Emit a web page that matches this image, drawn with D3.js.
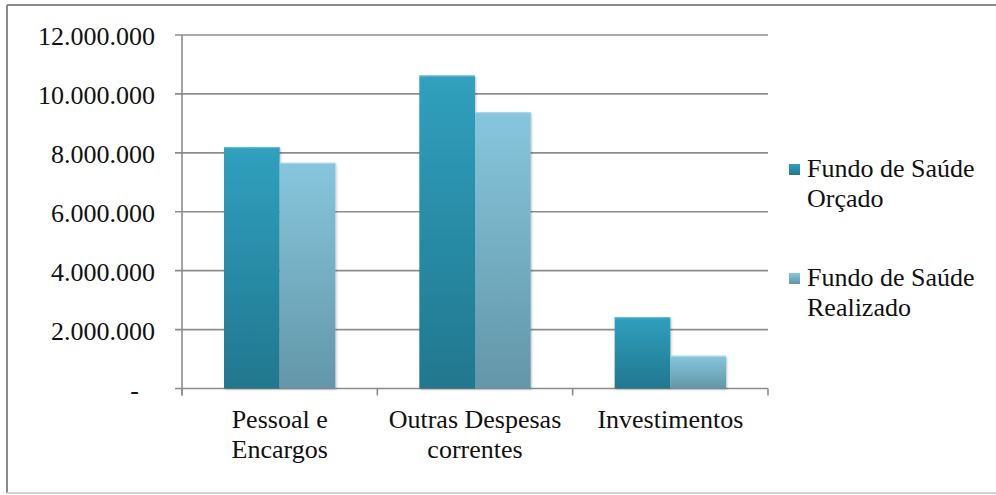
<!DOCTYPE html>
<html>
<head>
<meta charset="utf-8">
<script src="https://cdn.jsdelivr.net/npm/d3@7"></script>
<style>
html,body{margin:0;padding:0;background:#fff;}
svg{display:block;}
</style>
</head>
<body>
<svg id="chart" width="996" height="495"></svg>
<script>
const categories = [["Pessoal e","Encargos"],["Outras Despesas","correntes"],["Investimentos"]];
const seriesNames = [["Fundo de Saúde","Orçado"],["Fundo de Saúde","Realizado"]];
const orcado = [8190000, 10620000, 2420000];
const realizado = [7660000, 9380000, 1110000];
const yTicks = [0, 2000000, 4000000, 6000000, 8000000, 10000000, 12000000];

(function(){
const FONT = "'Liberation Serif', 'Times New Roman', Tinos, 'DejaVu Serif', serif";
const svg = d3.select("#chart").attr("font-family", FONT);
const pL = 182, pR = 768, pT = 35, pB = 388.5;

// outer frame: top and left darker, bottom light
svg.append("line").attr("x1",7).attr("x2",996).attr("y1",5).attr("y2",5)
  .attr("stroke","#8a8a8a").attr("stroke-width",2);
svg.append("line").attr("x1",7).attr("x2",7).attr("y1",5).attr("y2",493)
  .attr("stroke","#8a8a8a").attr("stroke-width",2);
svg.append("line").attr("x1",7).attr("x2",996).attr("y1",493).attr("y2",493)
  .attr("stroke","#d2d2d2").attr("stroke-width",2);

const defs = svg.append("defs");
const grads = [["g0","#30a0be","#21778e"],["g1","#86c6dd","#6396a8"]];
grads.forEach(([id,c1,c2])=>{
  const g = defs.append("linearGradient").attr("id",id).attr("x1",0).attr("y1",0).attr("x2",0).attr("y2",1);
  g.append("stop").attr("offset","0%").attr("stop-color",c1);
  g.append("stop").attr("offset","100%").attr("stop-color",c2);
});
const f = defs.append("filter").attr("id","sh").attr("x","-10%").attr("y","-10%").attr("width","130%").attr("height","130%");
f.append("feDropShadow").attr("dx",1).attr("dy",1).attr("stdDeviation",1.2).attr("flood-color","#000").attr("flood-opacity",0.25);

const locale = d3.formatLocale({decimal:",",thousands:".",grouping:[3],currency:["",""]});
const fmt = locale.format(",d");

const y = d3.scaleLinear().domain([0,12000000]).range([pB, pT]);
const keys = categories.map(c=>c.join(" "));
const x0 = d3.scaleBand().domain(keys).range([pL,pR]).paddingInner(0).paddingOuter(0);
const x1 = d3.scaleBand().domain([0,1]).range([42, x0.bandwidth()-42]).padding(0);

// gridlines
svg.append("g").selectAll("line").data(yTicks).join("line")
  .attr("x1",pL-7).attr("x2",pR).attr("y1",d=>y(d)).attr("y2",d=>y(d))
  .attr("stroke","#8c8c8c").attr("stroke-width",1.6);

// y axis line
svg.append("line").attr("x1",pL).attr("x2",pL).attr("y1",pT).attr("y2",pB+7)
  .attr("stroke","#8c8c8c").attr("stroke-width",1.6);

// x ticks
const xb = keys.map(k=>x0(k)).concat([pR]);
svg.append("g").selectAll("line").data(xb).join("line")
  .attr("x1",d=>d).attr("x2",d=>d).attr("y1",pB).attr("y2",pB+7)
  .attr("stroke","#8c8c8c").attr("stroke-width",1.6);

// y tick labels
svg.append("g").selectAll("text").data(yTicks).join("text")
  .attr("x",d=>d===0?139:155).attr("y",d=>y(d)+10)
  .attr("text-anchor","end").attr("font-size",26).attr("fill","#111")
  .text(d=>d===0?"-":fmt(d));

// bars
const data = [orcado, realizado];
const gb = svg.append("g");
data.forEach((vals,si)=>{
  gb.append("g").selectAll("rect").data(vals).join("rect")
    .attr("x",(d,i)=>x0(keys[i])+x1(si))
    .attr("y",d=>y(d))
    .attr("width",x1.bandwidth())
    .attr("height",d=>pB-y(d))
    .attr("fill",`url(#g${si})`)
    .attr("filter","url(#sh)");
  gb.append("g").selectAll("line").data(vals).join("line")
    .attr("x1",(d,i)=>x0(keys[i])+x1(si)).attr("x2",(d,i)=>x0(keys[i])+x1(si)+x1.bandwidth())
    .attr("y1",d=>y(d)+0.5).attr("y2",d=>y(d)+0.5)
    .attr("stroke",si===0?"#5fbad3":"#a6d8e8").attr("stroke-width",1.2);
});

// category labels
const cl = svg.append("g");
categories.forEach((lines,i)=>{
  const cx = x0(keys[i]) + x0.bandwidth()/2;
  lines.forEach((t,j)=>{
    cl.append("text").attr("x",cx).attr("y",428 + j*29.5).attr("text-anchor","middle")
      .attr("font-size",26).attr("fill","#111").text(t);
  });
});

// legend
const lg = svg.append("g");
const legY = [164, 273];
seriesNames.forEach((lines,si)=>{
  lg.append("rect").attr("x",789).attr("y",legY[si]).attr("width",11).attr("height",11)
    .attr("fill",`url(#g${si})`);
  lines.forEach((t,j)=>{
    lg.append("text").attr("x",807).attr("y",legY[si]+13+j*30).attr("font-size",26).attr("fill","#111").text(t);
  });
});
})();
</script>
</body>
</html>
